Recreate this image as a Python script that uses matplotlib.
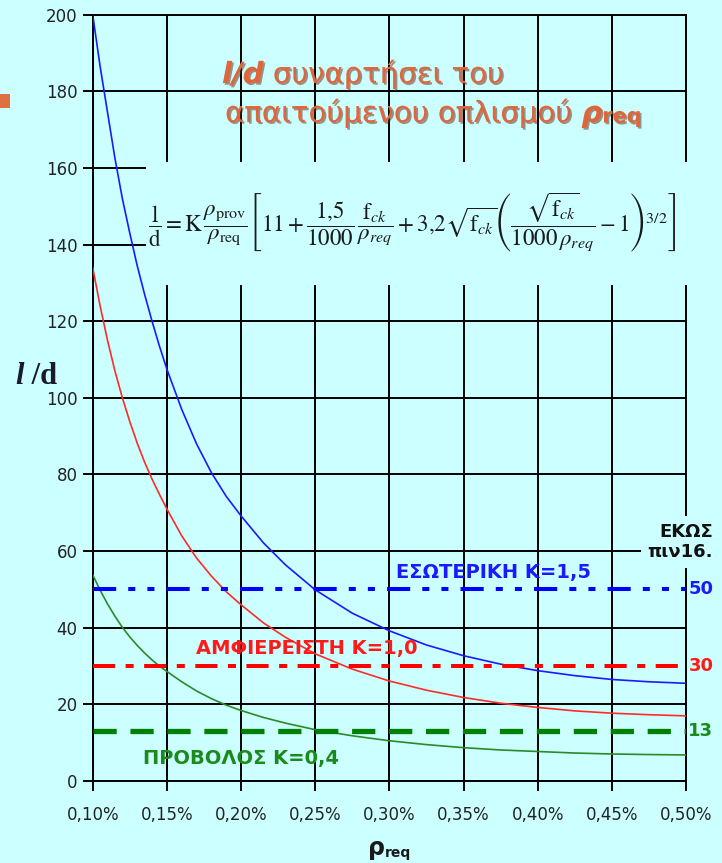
import matplotlib
matplotlib.use("Agg")
import matplotlib.pyplot as plt
import matplotlib.patheffects as pe
from matplotlib.patches import Rectangle

plt.rcParams["mathtext.fontset"] = "stix"

# ---- data ----
x_ticks = [0.10, 0.15, 0.20, 0.25, 0.30, 0.35, 0.40, 0.45, 0.50]
x_tick_labels = ["0,10%", "0,15%", "0,20%", "0,25%", "0,30%",
                 "0,35%", "0,40%", "0,45%", "0,50%"]
y_ticks = [0, 20, 40, 60, 80, 100, 120, 140, 160, 180, 200]

# ρreq (%) where the curves were read
rho = [0.100, 0.105, 0.110, 0.115, 0.120, 0.125, 0.130, 0.135, 0.140, 0.145,
       0.150, 0.160, 0.170, 0.180, 0.190, 0.200, 0.215, 0.230, 0.250, 0.275,
       0.300, 0.325, 0.350, 0.375, 0.400, 0.425, 0.450, 0.475, 0.500]

# ΕΣΩΤΕΡΙΚΗ K=1,5
ld_blue = [200, 186.5, 174.5, 162.5, 152, 143, 134.5, 127, 120, 113.5,
           107.5, 97, 88, 80.5, 74.3, 69.2, 62.2, 56.4, 49.9, 43.8,
           39.2, 35.5, 32.7, 30.5, 28.8, 27.5, 26.5, 25.9, 25.5]

# ΑΜΦΙΕΡΕΙΣΤΗ K=1,0
ld_red = [134, 124, 115, 107, 100, 93.8, 88.2, 83.2, 78.8, 74.8,
          71, 64, 58.2, 53.5, 49.4, 46, 41.3, 37.5, 33.2, 29.2,
          26.1, 23.7, 21.8, 20.3, 19.2, 18.3, 17.7, 17.3, 17.0]

# ΠΡΟΒΟΛΟΣ K=0,4
ld_green = [53.8, 49.8, 46.2, 43, 40.1, 37.6, 35.4, 33.4, 31.6, 30,
            28.6, 25.9, 23.5, 21.5, 19.8, 18.4, 16.6, 15.1, 13.4, 11.8,
            10.5, 9.5, 8.7, 8.1, 7.7, 7.3, 7.05, 6.9, 6.8]

# limits from table 16 (ΕΚΩΣ)
limit_values = [50, 30, 13]
limit_labels = ["50", "30", "13"]

bg = "#CCFFFF"
orange = "#E0653A"
W, H = 722, 863


def fx(px):
    return px / W


def fy(py):
    return 1 - py / H


fig = plt.figure(figsize=(W / 100, H / 100), dpi=100, facecolor=bg)
ax = fig.add_axes([fx(92.7), fy(781), fx(686) - fx(92.7), fy(14.7) - fy(781)],
                  facecolor=bg)

ax.set_xlim(x_ticks[0], x_ticks[-1])
ax.set_ylim(y_ticks[0], y_ticks[-1])
ax.set_xticks(x_ticks)
ax.set_xticklabels(x_tick_labels)
ax.set_yticks(y_ticks)
ax.grid(True, color="black", lw=1.4)
ax.set_axisbelow(True)
for s in ax.spines.values():
    s.set_color("black")
    s.set_linewidth(1.4)
ax.tick_params(axis="both", colors="black", width=1.4, length=7,
               labelsize=12, labelcolor="#222222")
ax.tick_params(axis="x", pad=11)
ax.tick_params(axis="y", pad=4)

# curves
ax.plot(rho, ld_blue, color="#1a1aff", lw=1.2, zorder=3)
ax.plot(rho, ld_red, color="#ff2a2a", lw=1.2, zorder=3)
ax.plot(rho, ld_green, color="#2a8a2a", lw=1.2, zorder=3)

# limit lines
x_span = [x_ticks[0], x_ticks[-1]]
ax.plot(x_span, [limit_values[0]] * 2, color="#0000ff", lw=2.9,
        linestyle=(0, (5.75, 3, 1.75, 3, 1.75, 3)), zorder=3)
ax.plot(x_span, [limit_values[1]] * 2, color="#ff0000", lw=2.9,
        linestyle=(0, (5.5, 2.6, 2, 2.6)), zorder=3)
ax.plot(x_span, [limit_values[2]] * 2, color="#008000", lw=3.8,
        linestyle=(0, (4.4, 2.6)), zorder=3)

tr = ax.get_yaxis_transform()
for val, lab, c in zip(limit_values, limit_labels, ["#1a1aff", "#ff1a1a", "#1a8a1a"]):
    ax.text(1.004, val, lab, transform=tr, color=c, fontsize=13,
            fontweight="bold", va="center", ha="left", clip_on=False)

ax.text(fx(713), fy(542), "ΕΚΩΣ\nπιν16.", transform=fig.transFigure,
        ha="right", va="center", fontsize=13, fontweight="bold",
        color="#111111", linespacing=1.2, zorder=5,
        bbox=dict(facecolor=bg, edgecolor="none", pad=5))

# curve labels
ax.text(0.3047, 54.5, "ΕΣΩΤΕΡΙΚΗ Κ=1,5", color="#1a1aff", fontsize=14,
        fontweight="bold", va="center", ha="left")
ax.text(0.1698, 34.7, "ΑΜΦΙΕΡΕΙΣΤΗ Κ=1,0", color="#ff1a1a", fontsize=14,
        fontweight="bold", va="center", ha="left")
ax.text(0.134, 6.0, "ΠΡΟΒΟΛΟΣ Κ=0,4", color="#1a8a1a", fontsize=14,
        fontweight="bold", va="center", ha="left")

# formula box covering the grid
ax.add_patch(Rectangle((fx(146), fy(285)), fx(693) - fx(146), fy(162) - fy(285),
                       transform=fig.transFigure, facecolor=bg, edgecolor="none",
                       clip_on=False, zorder=2.7))
formula = (r"$\dfrac{\mathrm{l}}{\mathrm{d}}=\mathrm{K}\,"
           r"\dfrac{\rho_{\mathrm{prov}}}{\rho_{\mathrm{req}}}"
           r"\left[11+\dfrac{1{,}5}{1000}\,\dfrac{\mathrm{f}_{ck}}{\rho_{req}}"
           r"+3{,}2\sqrt{\mathrm{f}_{ck}}\left(\dfrac{\sqrt{\mathrm{f}_{ck}}}"
           r"{1000\,\rho_{req}}-1\right)^{3/2}\right]$")
ax.text(fx(412), fy(222), formula, transform=fig.transFigure, fontsize=16.5,
        ha="center", va="center", color="#1a1a1a", zorder=4)

# title
shadow = [pe.withSimplePatchShadow(offset=(1.2, -1.2), shadow_rgbFace="#5a2a1a", alpha=0.5)]
tkw = dict(color=orange, fontsize=21, path_effects=shadow, zorder=6)
t1 = ax.text(fx(222), fy(83), "l/d", transform=fig.transFigure, va="baseline",
             fontweight="bold", fontstyle="italic", **tkw)
ax.annotate(" συναρτήσει του", xy=(1, 0), xycoords=t1, va="bottom", ha="left",
            annotation_clip=False, **tkw)
t3 = ax.text(fx(225), fy(122), "απαιτούμενου οπλισμού ", transform=fig.transFigure,
             va="baseline", **tkw)
t4 = ax.annotate("ρ", xy=(1, 0), xycoords=t3, va="bottom", ha="left",
                 fontweight="bold", fontstyle="italic", annotation_clip=False, **tkw)
tkw_small = dict(tkw, fontsize=15)
ax.annotate("req", xy=(1, 0), xycoords=t4, va="bottom", ha="left",
            xytext=(0, 1), textcoords="offset points", fontweight="bold",
            annotation_clip=False, **tkw_small)

# axis labels
yl = fig.text(fx(15), fy(384), "l", family="Liberation Serif", fontweight="bold",
              fontstyle="italic", fontsize=22, color="#1a1a2a", va="baseline")
ax.annotate(" /d", xy=(1, 0), xycoords=yl, va="bottom", ha="left",
            family="Liberation Serif", fontweight="bold", fontsize=22,
            color="#1a1a2a", annotation_clip=False)
xl = fig.text(fx(368), fy(855), "ρ", fontweight="bold", fontsize=17,
              color="#1a1a1a", va="baseline")
ax.annotate("req", xy=(1, 0), xycoords=xl, va="bottom", ha="left",
            xytext=(0, 0), textcoords="offset points", fontweight="bold",
            fontsize=10, color="#1a1a1a", annotation_clip=False)

# slide bullet
fig.patches.append(Rectangle((0, fy(108)), fx(10), fy(94) - fy(108),
                             transform=fig.transFigure, facecolor="#E07040",
                             edgecolor="none"))

fig.savefig("out.png", dpi=100, facecolor=bg)
